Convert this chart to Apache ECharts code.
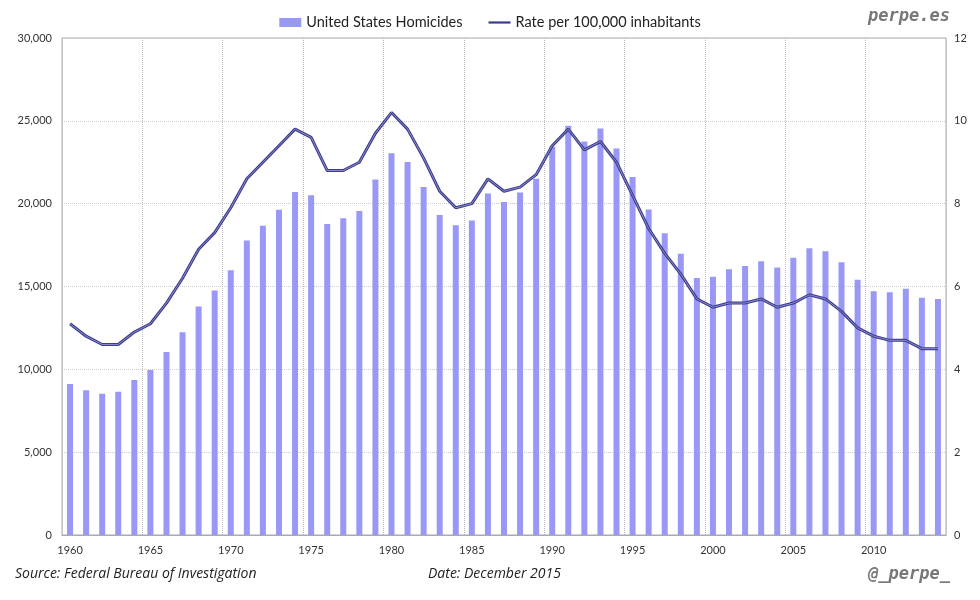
<!DOCTYPE html>
<html><head><meta charset="utf-8">
<script src="https://cdn.jsdelivr.net/npm/echarts@6/dist/echarts.min.js"></script>
<style>html,body{margin:0;padding:0;background:#fff}#c{width:980px;height:600px}</style>
</head><body><div id="c"></div>
<script>
const years = [];
for (let y = 1960; y <= 2014; y++) years.push(String(y));
const homicides = [9110,8740,8530,8640,9360,9960,11040,12240,13800,14760,
  15980,17780,18670,19640,20710,20510,18780,19120,19560,21460,
  23040,22520,21010,19310,18690,18980,20610,20100,20680,21500,
  23440,24700,23760,24530,23330,21610,19650,18210,16970,15520,
  15590,16040,16230,16530,16150,16740,17310,17130,16460,15400,
  14720,14660,14860,14320,14250];
const rate = [5.1,4.8,4.6,4.6,4.9,5.1,5.6,6.2,6.9,7.3,
  7.9,8.6,9.0,9.4,9.8,9.6,8.8,8.8,9.0,9.7,
  10.2,9.8,9.1,8.3,7.9,8.0,8.6,8.3,8.4,8.7,
  9.4,9.8,9.3,9.5,9.0,8.2,7.4,6.8,6.3,5.7,
  5.5,5.6,5.6,5.7,5.5,5.6,5.8,5.7,5.4,5.0,
  4.8,4.7,4.7,4.5,4.5];
const leftTicks = {min:0, max:30000, interval:5000};
const rightTicks = {min:0, max:12, interval:2};

const font = 'Lato, "Open Sans", sans-serif';
const chart = echarts.init(document.getElementById('c'));
chart.setOption({
  animation:false,
  backgroundColor:'#fff',
  textStyle:{fontFamily:font},
  legend:{
    top:10, left:'center',
    itemGap:26,
    textStyle:{fontSize:14.5,color:'#222',fontFamily:font},
    data:[
      {name:'United States Homicides', icon:'rect', itemStyle:{color:'#9999f5'}},
      {name:'Rate per 100,000 inhabitants', icon:'path://M0,0 L20,0 L20,2 L0,2 Z', itemStyle:{color:'#3c3c8c'}}
    ],
    itemWidth:22, itemHeight:9
  },
  graphic:[
    {type:'text', right:30, top:8, style:{text:'perpe.es', fill:'#777', font:'italic bold 17px "DejaVu Sans Mono", monospace'}},
    {type:'text', right:30, top:566, style:{text:'@_perpe_', fill:'#777', font:'italic bold 17px "DejaVu Sans Mono", monospace'}},
    {type:'text', left:15, top:567, style:{text:'Source: Federal Bureau of Investigation', fill:'#222', font:'italic 14px "Open Sans", sans-serif'}},
    {type:'text', left:428, top:567, style:{text:'Date: December 2015', fill:'#222', font:'italic 14px "Open Sans", sans-serif'}}
  ],
  grid:{left:62, right:34, top:38, bottom:65, show:true, borderColor:'#aaa', borderWidth:1},
  xAxis:{
    type:'category', data:years, boundaryGap:true,
    axisLine:{lineStyle:{color:'#aaa'}},
    axisTick:{show:false},
    axisLabel:{interval:4, color:'#333', fontSize:11, margin:10},
    splitLine:{show:true, interval:4, lineStyle:{color:'#bbb', type:'dotted'}}
  },
  yAxis:[
    {type:'value', min:leftTicks.min, max:leftTicks.max, interval:leftTicks.interval,
     axisLine:{show:false}, axisTick:{show:false},
     axisLabel:{color:'#333', fontSize:11, margin:10, formatter:v=>v.toLocaleString('en-US')},
     splitLine:{lineStyle:{color:'#ccc', type:'dotted'}}},
    {type:'value', min:rightTicks.min, max:rightTicks.max, interval:rightTicks.interval,
     axisLine:{show:false}, axisTick:{show:false},
     axisLabel:{color:'#333', fontSize:11, margin:8},
     splitLine:{show:false}}
  ],
  series:[
    {name:'United States Homicides', type:'bar', data:homicides, barWidth:6, itemStyle:{color:'#9999f5'}},
    {name:'Rate per 100,000 inhabitants', type:'line', yAxisIndex:1, data:rate, symbol:'none',
     lineStyle:{color:'#3c3c8c', width:3}, z:3},
    {name:'rate-inner', type:'line', yAxisIndex:1, data:rate, symbol:'none',
     lineStyle:{color:'#8a8ad0', width:1}, z:4, legendHoverLink:false}
  ]
});
</script></body></html>
